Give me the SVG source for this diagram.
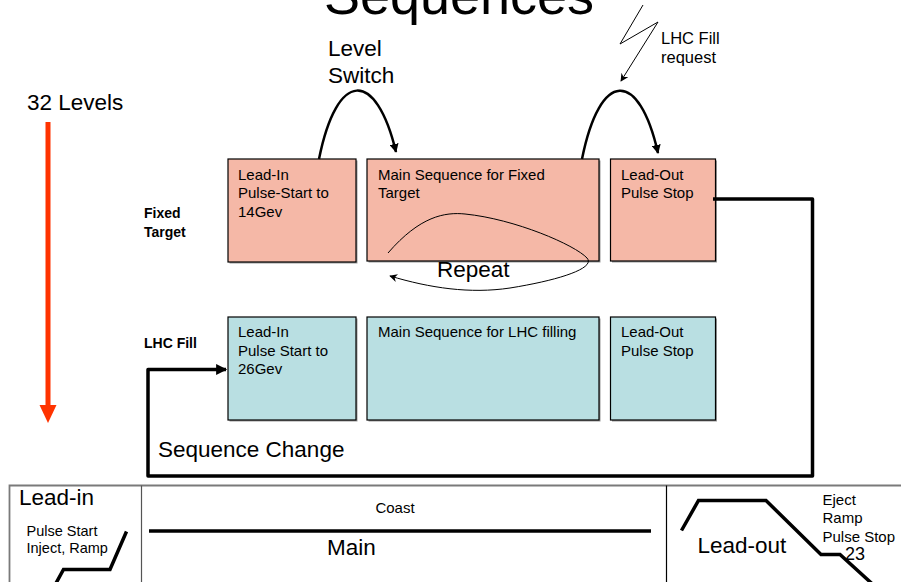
<svg xmlns="http://www.w3.org/2000/svg" width="901" height="582" viewBox="0 0 901 582">
  <style>
    text { font-family: "Liberation Sans", Arial, sans-serif; fill: #000; }
    .big { font-size: 22.5px; }
    .box { font-size: 15px; }
    .lbl { font-size: 14px; font-weight: bold; }
    .ft { fill: #F5B8A7; stroke: #000; stroke-width: 1.2; }
    .lhc { fill: #B9DFE2; stroke: #000; stroke-width: 1.2; }
    .shadow { fill: #9a9a9a; }
    .thick { fill: none; stroke: #000; stroke-width: 3.5; stroke-linejoin: round; }
    .arc { fill: none; stroke: #000; stroke-width: 2.5; }
    .thin { fill: none; stroke: #000; stroke-width: 1; }
    .prof { fill: none; stroke: #000; stroke-width: 3.5; stroke-linejoin: miter; }
  </style>
  <defs>
    <marker id="headArc" viewBox="0 0 10 10" refX="9" refY="5" markerWidth="9" markerHeight="9" markerUnits="userSpaceOnUse" orient="auto">
      <path d="M0,0 L10,5 L0,10 Z" fill="#000"/>
    </marker>
    <marker id="headThin" viewBox="0 0 10 10" refX="9" refY="5" markerWidth="8" markerHeight="8" markerUnits="userSpaceOnUse" orient="auto">
      <path d="M0,0 L10,5 L0,10 L3,5 Z" fill="#000"/>
    </marker>
    <marker id="headBold" viewBox="0 0 10 10" refX="9" refY="5" markerWidth="13" markerHeight="11" markerUnits="userSpaceOnUse" orient="auto">
      <path d="M0,0 L10,5 L0,10 Z" fill="#000"/>
    </marker>
  </defs>

  <!-- heading -->
  <text x="459" y="14" font-size="54" text-anchor="middle">Sequences</text>

  <!-- level axis -->
  <g id="levels">
    <text class="big" x="27" y="110">32 Levels</text>
    <rect x="45.5" y="122" width="5" height="286" fill="#FF3300"/>
    <path d="M39.5,405 L56.5,405 L48,423 Z" fill="#FF3300"/>
  </g>

  <!-- row labels -->
  <g id="label-fixed">
    <text class="lbl" x="144" y="218">Fixed</text>
    <text class="lbl" x="144" y="237">Target</text>
  </g>
  <g id="label-lhc">
    <text class="lbl" x="144" y="348">LHC Fill</text>
  </g>

  <!-- fixed target row -->
  <g id="ft-leadin">
    <rect class="shadow" x="229.5" y="160.5" width="128" height="103"/>
    <rect class="ft" x="228" y="159" width="128" height="103"/>
    <text class="box" x="238" y="180">Lead-In</text>
    <text class="box" x="238" y="198">Pulse-Start to</text>
    <text class="box" x="238" y="216.5">14Gev</text>
  </g>
  <g id="ft-main">
    <rect class="shadow" x="368.5" y="160.5" width="232" height="102"/>
    <rect class="ft" x="367" y="159" width="232" height="102"/>
    <text class="box" x="378" y="180">Main Sequence for Fixed</text>
    <text class="box" x="378" y="198">Target</text>
  </g>
  <g id="ft-leadout">
    <rect class="shadow" x="612" y="160.5" width="105" height="102"/>
    <rect class="ft" x="610.5" y="159" width="105" height="102"/>
    <text class="box" x="621" y="180">Lead-Out</text>
    <text class="box" x="621" y="198">Pulse Stop</text>
  </g>

  <!-- LHC fill row -->
  <g id="lhc-leadin">
    <rect class="shadow" x="229.5" y="318.5" width="128" height="103"/>
    <rect class="lhc" x="228" y="317" width="128" height="103"/>
    <text class="box" x="238" y="337">Lead-In</text>
    <text class="box" x="238" y="356">Pulse Start to</text>
    <text class="box" x="238" y="374">26Gev</text>
  </g>
  <g id="lhc-main">
    <rect class="shadow" x="368.5" y="318.5" width="232" height="103"/>
    <rect class="lhc" x="367" y="317" width="232" height="103"/>
    <text class="box" x="378" y="337">Main Sequence for LHC filling</text>
  </g>
  <g id="lhc-leadout">
    <rect class="shadow" x="612" y="318.5" width="105" height="103"/>
    <rect class="lhc" x="610.5" y="317" width="105" height="103"/>
    <text class="box" x="621" y="337">Lead-Out</text>
    <text class="box" x="621" y="355.5">Pulse Stop</text>
  </g>

  <!-- connectors -->
  <g id="connectors">
    <path class="arc" d="M319,159 C337,69 376,69 396,152" marker-end="url(#headArc)"/>
    <path class="arc" d="M582,159 C600,69 639,69 658,153" marker-end="url(#headArc)"/>
    <path class="thin" d="M643,5 L620,44 L658,22 L621,81" marker-end="url(#headThin)"/>
    <path class="thin" d="M388,253 C420,216 445,212 465,214 C515,219 575,245 587,258 C596,268 560,280 510,288 C470,294 430,288 390,276" marker-end="url(#headThin)"/>
    <path class="thick" d="M713,199 L812.5,199 L812.5,476 L148,476 L148,369.5 L226,369.5" marker-end="url(#headBold)"/>
  </g>

  <!-- connector labels -->
  <g id="connector-labels">
    <text class="big" x="328" y="56">Level</text>
    <text class="big" x="328" y="83">Switch</text>
    <text font-size="16.5" x="661" y="44">LHC Fill</text>
    <text font-size="16.5" x="661" y="63">request</text>
    <text class="big" x="437" y="277">Repeat</text>
    <text class="big" x="158" y="457">Sequence Change</text>
  </g>

  <!-- cycle profile strip -->
  <g id="profile">
    <path d="M9.5,582 L9.5,485.5 L901,485.5" fill="none" stroke="#7a7a7a" stroke-width="1.8"/>
    <line x1="141.5" y1="485.5" x2="141.5" y2="582" stroke="#555" stroke-width="1.2"/>
    <line x1="666.5" y1="485.5" x2="666.5" y2="582" stroke="#000" stroke-width="1.2"/>

    <text class="big" x="19" y="505">Lead-in</text>
    <text font-size="14.5" x="26.5" y="535.5">Pulse Start</text>
    <text font-size="14.5" x="26.5" y="553">Inject, Ramp</text>
    <path class="prof" d="M126.5,531.5 L110,569.5 L63.5,569.5 L55,585"/>

    <text font-size="15" x="395" y="512.5" text-anchor="middle">Coast</text>
    <line x1="149" y1="531" x2="651" y2="531" stroke="#000" stroke-width="3.5"/>
    <text class="big" x="351.5" y="555" text-anchor="middle">Main</text>

    <path class="prof" d="M681.5,530.5 L698.5,500.5 L766,500.5 L821,554.5 L840,554.5 L873.5,585"/>
    <text class="big" x="697.5" y="553">Lead-out</text>
    <text font-size="15" x="822.5" y="505">Eject</text>
    <text font-size="15" x="822.5" y="523.3">Ramp</text>
    <text font-size="15" x="822.5" y="541.7">Pulse Stop</text>
    <text font-size="18" x="855" y="559.5" text-anchor="middle">23</text>
  </g>
</svg>
